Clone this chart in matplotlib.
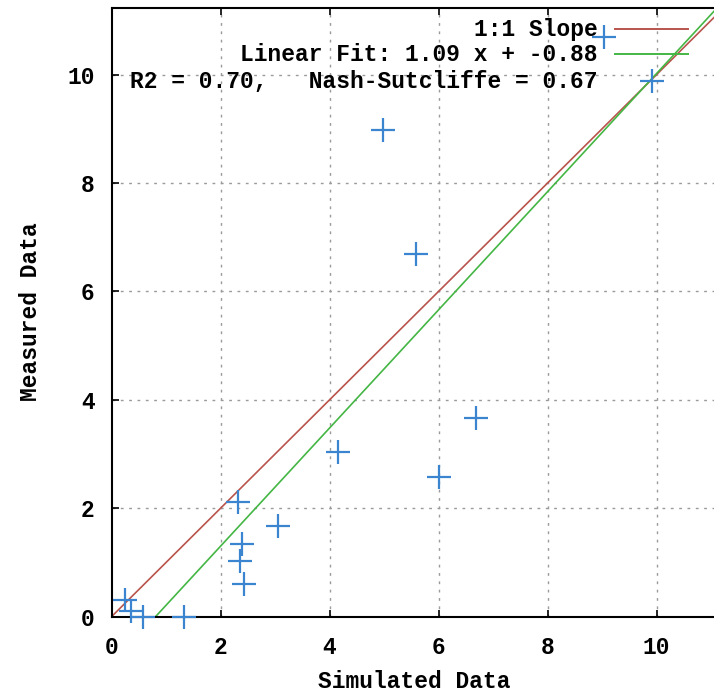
import numpy as np
import matplotlib
matplotlib.use("Agg")
import matplotlib.pyplot as plt
from matplotlib.lines import Line2D

# ---- data ----
simulated = [0.25, 0.35, 0.57, 1.33, 2.32, 2.40, 2.36, 2.43, 3.06, 4.15,
             4.99, 5.58, 6.68, 6.01, 9.04]
measured = [0.30, 0.10, 0.00, 0.00, 2.12, 1.34, 1.03, 0.60, 1.67, 3.03,
            8.97, 6.69, 3.66, 2.58, 10.70]
fit_slope = 1.09
fit_intercept = -0.88
r2 = 0.70
nse = 0.67
x_ticks = [0, 2, 4, 6, 8, 10]
y_ticks = [0, 2, 4, 6, 8, 10]
labels = ["1:1 Slope",
          "Linear Fit: 1.09 x + -0.88",
          "R2 = 0.70,   Nash-Sutcliffe = 0.67"]

# ---- style ----
W, H = 714, 694
DPI = 100
FONT = dict(family="Liberation Mono", weight="bold", size=16.5)
RED = "#b8544c"
GREEN = "#44b644"
BLUE = "#3a84d0"

fig = plt.figure(figsize=(W / DPI, H / DPI), dpi=DPI)
fig.patch.set_facecolor("white")

xmax, ymax = 11.2, 11.23
left_px, bottom_px, top_px = 111.5, 616.7, 8.0
px_per_x = 54.5
ax = fig.add_axes([left_px / W, (H - bottom_px) / H,
                   xmax * px_per_x / W, (bottom_px - top_px) / H])
ax.set_xlim(0, xmax)
ax.set_ylim(0, ymax)

# grid
for v in x_ticks[1:]:
    ax.axvline(v, color="#9a9a9a", lw=1.0, dashes=(2, 4), zorder=0)
for v in y_ticks[1:]:
    ax.axhline(v, color="#9a9a9a", lw=1.0, dashes=(2, 4), zorder=0)

# 1:1 line
xx = np.array([0, xmax])
ax.plot(xx, xx, color=RED, lw=1.2, zorder=2)
# linear fit
x0 = -fit_intercept / fit_slope
xf = np.array([x0, xmax])
ax.plot(xf, fit_slope * xf + fit_intercept, color=GREEN, lw=1.2, zorder=2)
# data
ax.plot(simulated, measured, linestyle="none", marker="+", markersize=17,
        markeredgewidth=1.6, color=BLUE, zorder=3, clip_on=False)

# axes style
for s in ax.spines.values():
    s.set_linewidth(1.5)
ax.set_xticks(x_ticks)
ax.set_yticks(y_ticks)
ax.set_xticklabels([str(t) for t in x_ticks], fontdict=FONT)
ax.set_yticklabels([str(t) for t in y_ticks], fontdict=FONT)
ax.tick_params(direction="in", length=5, width=1.2, top=True, right=True)
ax.tick_params(axis="x", pad=14)
ax.tick_params(axis="y", pad=12)

ax.set_xlabel("Simulated Data", fontdict=FONT)
ax.xaxis.set_label_coords(414 / W, 1 - 681.7 / H, transform=fig.transFigure)
ax.xaxis.label.set_va("center")
ax.set_ylabel("Measured Data", fontdict=FONT)
ax.yaxis.set_label_coords(31 / W, 1 - 312 / H, transform=fig.transFigure)
ax.yaxis.label.set_va("center")

# key (gnuplot style: right-aligned text, then sample)
rows_y = [29.3, 54.3, 81.0]
text_right = 598
samp_l, samp_r = 615, 688
for i, (lab, yy) in enumerate(zip(labels, rows_y)):
    fy = 1 - yy / H
    fig.text(text_right / W, fy, lab, ha="right", va="center", **FONT)
    if i == 0:
        fig.add_artist(Line2D([samp_l / W, samp_r / W], [fy, fy], color=RED, lw=1.4))
    elif i == 1:
        fig.add_artist(Line2D([samp_l / W, samp_r / W], [fy, fy], color=GREEN, lw=1.4))
    else:
        c = (samp_l + samp_r) / 2 / W
        fig.add_artist(Line2D([c], [fy], marker="+", markersize=17,
                              markeredgewidth=1.6, color=BLUE, linestyle="none"))

fig.savefig("out.png", dpi=DPI, facecolor="white")
